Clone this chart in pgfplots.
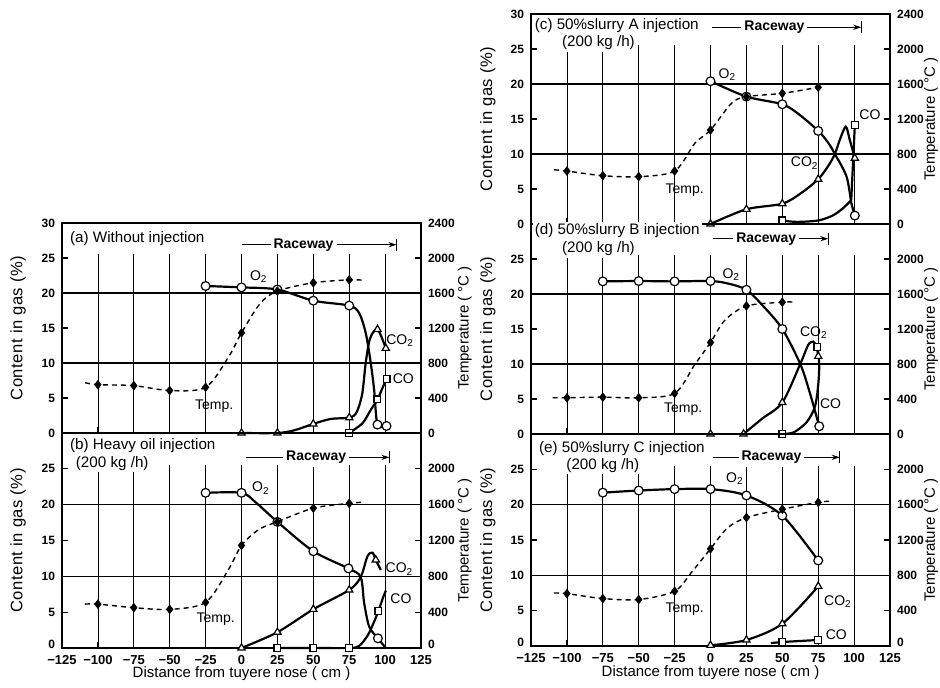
\documentclass[border=0pt]{standalone}
\usepackage{fontspec}
\setmainfont{Liberation Sans}
\usepackage{pgfplots}
\pgfplotsset{compat=1.18}
\usetikzlibrary{arrows.meta}

\newcommand{\tf}{\fontsize{6}{7}\selectfont}
\newcommand{\hf}{\fontsize{7.6}{8.5}\selectfont}
\newcommand{\rf}{\fontsize{7}{8}\selectfont}
\newcommand{\lf}{\fontsize{7.5}{9}\selectfont}
\newcommand{\ylf}{\fontsize{8.3}{9.5}\selectfont\addfontfeature{LetterSpace=3}}
\newcommand{\cf}{\fontsize{7}{8}\selectfont}

\pgfplotsset{
  panel/.style={scale only axis, width=179.5pt, anchor=south west,
    xmin=-125, xmax=125, ymin=0, ymax=30, clip=false,
    axis line style={line width=0.8pt},
    xtick={-125,-100,...,125}, xticklabels={},
    xtick pos=bottom, ytick pos=left, tick align=inside,
    major tick length=3pt, tick style={line width=0.6pt, black},
    ticklabel style={font=\tf\bfseries},
    ylabel={Content in gas (\%)},
    ylabel style={at={(axis description cs:-0.122,0.5)}, anchor=center, font=\ylf},
    xlabel style={at={(axis description cs:0.5,-0.12)}, anchor=center, font=\lf}},
  tpanel/.style={scale only axis, width=179.5pt, anchor=south west,
    xmin=-125, xmax=125, ymin=0, ymax=2400,
    axis x line=none, axis y line*=right,
    axis line style={line width=0.8pt},
    ytick pos=right, tick align=inside,
    major tick length=3pt, tick style={line width=0.6pt, black},
    ticklabel style={font=\tf\bfseries},
    ylabel={Temperature ( °C )},
    ylabel style={at={(axis description cs:1.122,0.5)}, anchor=center, font=\lf}},
  curve/.style={line width=1.1pt, black, smooth, no markers},
  line/.style={line width=1.1pt, black, no markers},
  tcurve/.style={line width=0.7pt, black, smooth, no markers, dash pattern=on 2.5pt off 2pt},
  mO/.style={only marks, mark=*, mark size=2.2pt, mark options={fill=white, draw=black, line width=0.6pt, solid}},
  mT/.style={only marks, mark=triangle*, mark size=2.1pt, mark options={fill=white, draw=black, line width=0.6pt, solid}},
  mS/.style={only marks, mark=square*, mark size=1.7pt, mark options={fill=white, draw=black, line width=0.6pt, solid}},
  mD/.style={only marks, mark=diamond*, mark size=2.1pt, mark options={fill=black, draw=black, solid}},
}

\newcommand{\gridlines}{%
  \draw[line width=0.7pt] (axis cs:-125,10) -- (axis cs:125,10);
  \draw[line width=0.7pt] (axis cs:-125,20) -- (axis cs:125,20);
  \pgfplotsinvokeforeach{-100,-75,-50,-25,0,25,50,75,100}{\draw[line width=0.4pt] (axis cs:##1,0) -- (axis cs:##1,25.5);}%
}
% #1 start x, #2 end x, #3 y, #4 text pos
\newcommand{\raceway}[4]{%
  \draw[line width=0.6pt, -{Stealth[length=4pt,width=2.6pt]}] (axis cs:#1,#3) -- node[pos=#4, fill=white, inner sep=1.5pt, font=\rf\bfseries]{Raceway} (axis cs:#2,#3);
  \draw[line width=0.7pt] ([yshift=-3pt]axis cs:#2,#3) -- ([yshift=3pt]axis cs:#2,#3);
}
\newcommand{\ttl}[3]{\node[anchor=west, fill=white, inner sep=1pt, font=\hf] at (axis cs:#1,#2) {#3};}
\newcommand{\lbl}[3]{\node[font=\cf, inner sep=0.5pt] at (axis cs:#1,#2) {#3};}

\begin{document}
\begin{tikzpicture}
\useasboundingbox (0,0) rectangle (470pt,344pt);

%================ (a) =================
\begin{axis}[panel, at={(31pt,127.5pt)}, height=105pt,
  ytick={0,5,...,30}, yticklabels={0,5,10,15,20,25,30}]
  \gridlines
  \addplot[curve] coordinates {(-25,21.0) (0,20.8) (25,20.5) (50,18.9) (75,18.2) (82,17.1) (86.6,14.2) (90,10) (92.4,6.1) (94.7,1.2) (101,1.0)};
  \addplot[curve] coordinates {(0,0) (25,0) (37,0.4) (50,1.3) (62,2.0) (75,2.2) (80,2.9) (84,5.5) (86.5,10) (89.5,13.5) (94.7,14.8) (100.5,12.1)};
  \addplot[curve] coordinates {(75,0) (84.3,1.4) (90,3.3) (94.7,4.8) (98.1,6.4) (101,7.7)};
  \addplot[mO] coordinates {(-25,21.0) (0,20.8) (25,20.5) (50,18.9) (75,18.2) (94.7,1.2) (101,1.0)};
  \addplot[mT] coordinates {(0,0) (25,0) (50,1.3) (75,2.2) (94.7,14.8) (100.5,12.1)};
  \addplot[mS] coordinates {(75,0) (94.7,4.8) (101,7.7)};
  \ttl{-121}{27.8}{(a) Without injection}
  \raceway{0}{108}{26.9}{0.4}
  \lbl{12}{22.4}{O\textsubscript{2}}
  \lbl{110.4}{13.2}{CO\textsubscript{2}}
  \lbl{112.7}{7.8}{CO}
  \lbl{-19}{3.9}{Temp.}
\end{axis}
\begin{axis}[tpanel, at={(31pt,127.5pt)}, height=105pt,
  ytick={0,400,...,2400}, yticklabels={0,400,800,1200,1600,2000,2400}]
  \addplot[tcurve] coordinates {(-109,575) (-100,552) (-75,541) (-50,485) (-25,522) (-9,870) (0,1145) (13,1480) (25,1622) (50,1717) (75,1750) (86,1745)};
  \addplot[mD] coordinates {(-100,552) (-75,541) (-50,485) (-25,522) (0,1145) (25,1622) (50,1717) (75,1750)};
\end{axis}

%================ (b) =================
\begin{axis}[panel, at={(31pt,20pt)}, height=107.5pt,
  ytick={0,5,...,25}, yticklabels={\raisebox{4pt}{0},5,10,15,20,25},
  xticklabels={−125,−100,−75,−50,−25,0,25,50,75,100,125},
  xticklabel style={font=\fontsize{6.5}{7.5}\selectfont\bfseries},
  xlabel={Distance from tuyere nose ( cm )}]
  \gridlines
  \addplot[curve] coordinates {(-25,21.65) (0,21.65) (10,20.3) (25,17.6) (50,13.5) (74.5,11.1) (83,9.9) (85.4,6.3) (88.9,3.0) (95,1.35) (100.5,0)};
  \addplot[curve] coordinates {(0,0) (25,2.2) (50,5.4) (75,8.1) (83,9.9) (87.7,12.8) (91.2,13.3) (93.5,12.3) (97,10.9)};
  \addplot[curve] coordinates {(25,0) (50,0) (75,0) (82,0.3) (88,1.8) (92,3.5) (95.4,5.2) (98.5,7.0) (100.5,8.0)};
  \addplot[mO] coordinates {(-25,21.65) (0,21.65) (25,17.6) (50,13.5) (74.5,11.1) (95,1.35)};
  \addplot[mT] coordinates {(0,0) (25,2.2) (50,5.4) (75,8.1) (93.5,12.3)};
  \addplot[mS] coordinates {(25,0) (50,0) (75,0) (95.4,5.2)};
  \ttl{-121}{28.3}{(b) Heavy oil injection}
  \ttl{-117}{25.8}{(200 kg /h)}
  \raceway{3}{103}{26.6}{0.49}
  \lbl{13.5}{22.3}{O\textsubscript{2}}
  \lbl{110}{11}{CO\textsubscript{2}}
  \lbl{111}{6.9}{CO}
  \lbl{-18}{4.0}{Temp.}
\end{axis}
\begin{axis}[tpanel, at={(31pt,20pt)}, height=107.5pt,
  ytick={0,400,...,2000}, yticklabels={\raisebox{4pt}{0},400,800,1200,1600,2000}]
  \addplot[tcurve] coordinates {(-109,490) (-100,490) (-75,450) (-50,431) (-25,509) (-9,878) (0,1145) (12,1322) (25,1409) (50,1561) (75,1614) (86,1630)};
  \addplot[mD] coordinates {(-100,490) (-75,450) (-50,431) (-25,509) (0,1145) (25,1409) (50,1561) (75,1614)};
\end{axis}

%================ (c) =================
\begin{axis}[panel, at={(265.5pt,232pt)}, height=105pt,
  ylabel style={at={(axis description cs:-0.12,0.5)}},
  ytick={0,5,...,30}, yticklabels={0,5,10,15,20,25,30}]
  \gridlines
  \addplot[curve] coordinates {(0,20.4) (25,18.2) (50,17.1) (62,15.6) (75,13.3) (82,11.6) (86.6,10) (94.7,6.8) (98.1,3) (100.5,1.2)};
  \addplot[curve] coordinates {(0,0) (25,2.1) (50,2.9) (63,4.4) (75,6.4) (82,8.3) (86.6,10) (90,12) (94.2,13.9) (97,12) (100.5,9.4)};
  \addplot[curve] coordinates {(50,0.5) (60,0.3) (75,0.5) (85,1.2) (92,2.2) (98,3.4)};
  \addplot[line] coordinates {(98,3.4) (100.5,14.1)};
  \addplot[mO] coordinates {(0,20.4) (25,18.2) (50,17.1) (75,13.3) (100.5,1.2)};
  \addplot[mT] coordinates {(0,0) (25,2.1) (50,2.9) (75,6.4) (100.5,9.4)};
  \addplot[mS] coordinates {(50,0.5) (100.5,14.1)};
  \ttl{-124}{28.3}{(c) 50\%slurry A injection}
  \ttl{-105}{25.9}{(200 kg /h)}
  \raceway{0.7}{105}{28.1}{0.42}
  \lbl{11.8}{21.3}{O\textsubscript{2}}
  \lbl{65.6}{8.7}{CO\textsubscript{2}}
  \lbl{111}{15.6}{CO}
  \lbl{-18}{4.9}{Temp.}
\end{axis}
\begin{axis}[tpanel, at={(265.5pt,232pt)}, height=105pt,
  ylabel style={at={(axis description cs:1.114,0.5)}},
  ytick={0,400,...,2400}, yticklabels={0,400,800,1200,1600,2000,2400}]
  \addplot[tcurve] coordinates {(-109,620) (-100,605) (-75,552) (-50,541) (-25,605) (-11,921) (0,1074) (14.6,1379) (25,1455) (50,1493) (75,1562)};
  \addplot[mD] coordinates {(-100,605) (-75,552) (-50,541) (-25,605) (0,1074) (25,1455) (50,1493) (75,1562)};
\end{axis}

%================ (d) =================
\begin{axis}[panel, at={(265.5pt,127pt)}, height=105pt,
  ylabel style={at={(axis description cs:-0.12,0.5)}},
  ytick={0,5,...,25}, yticklabels={0,5,10,15,20,25}]
  \gridlines
  \addplot[curve] coordinates {(-75,21.8) (-50,21.85) (-25,21.8) (0,21.85) (12,21.5) (25,20.6) (37,18.2) (50,15.0) (62.5,10) (69,6.0) (75.7,1.1)};
  \addplot[curve] coordinates {(23,0) (36,2.2) (50,4.5) (62.5,10) (68,12.7) (71.6,13.2) (74,12.4) (75,11.1)};
  \addplot[curve] coordinates {(50,0) (58,0.24) (67,1.7) (72.7,3.9) (75,7) (75.7,9.9) (74.5,12.4)};
  \addplot[mO] coordinates {(-75,21.8) (-50,21.85) (-25,21.8) (0,21.85) (25,20.6) (50,15.0) (75.7,1.1)};
  \addplot[mT] coordinates {(0,0) (23,0) (50,4.5) (75,11.1)};
  \addplot[mS] coordinates {(50,0) (74.5,12.4)};
  \ttl{-124}{29.0}{(d) 50\%slurry B injection}
  \ttl{-105}{26.5}{(200 kg /h)}
  \raceway{2}{82}{27.9}{0.46}
  \lbl{14.5}{22.8}{O\textsubscript{2}}
  \lbl{72}{14.5}{CO\textsubscript{2}}
  \lbl{83.6}{4.3}{CO}
  \lbl{-19}{3.6}{Temp.}
\end{axis}
\begin{axis}[tpanel, at={(265.5pt,127pt)}, height=105pt,
  ylabel style={at={(axis description cs:1.114,0.5)}},
  ytick={0,400,...,2000}, yticklabels={0,400,800,1200,1600,2000}]
  \addplot[tcurve] coordinates {(-110,414) (-100,414) (-75,421) (-50,414) (-25,464) (-11,792) (0,1046) (10,1300) (25,1463) (50,1506) (57,1508)};
  \addplot[mD] coordinates {(-100,414) (-75,421) (-50,414) (-25,464) (0,1046) (25,1463) (50,1506)};
\end{axis}

%================ (e) =================
\begin{axis}[panel, at={(265.5pt,21pt)}, height=106pt,
  ylabel style={at={(axis description cs:-0.12,0.5)}},
  ytick={0,5,...,25}, yticklabels={\raisebox{4pt}{0},5,10,15,20,25},
  xticklabels={−125,−100,−75,−50,−25,0,25,50,75,100,125},
  xticklabel style={font=\fontsize{6.5}{7.5}\selectfont\bfseries},
  xlabel={Distance from tuyere nose ( cm )},
  xlabel style={at={(axis description cs:0.5,-0.127)}}]
  \gridlines
  \addplot[curve] coordinates {(-75,21.7) (-50,22.0) (-25,22.2) (0,22.2) (25,21.3) (50,18.45) (75,12.1)};
  \addplot[curve] coordinates {(0,0.1) (25,0.85) (50,3.15) (75,8.45)};
  \addplot[curve] coordinates {(42,0.4) (50,0.56) (75,0.85)};
  \addplot[mO] coordinates {(-75,21.7) (-50,22.0) (-25,22.2) (0,22.2) (25,21.3) (50,18.45) (75,12.1)};
  \addplot[mT] coordinates {(0,0.1) (25,0.85) (50,3.15) (75,8.45)};
  \addplot[mS] coordinates {(50,0.56) (75,0.85)};
  \ttl{-121}{27.9}{(e) 50\%slurry C injection}
  \ttl{-102}{25.6}{(200 kg /h)}
  \raceway{2}{90}{26.7}{0.46}
  \lbl{17}{23.7}{O\textsubscript{2}}
  \lbl{88.8}{6.3}{CO\textsubscript{2}}
  \lbl{87.6}{1.6}{CO}
  \lbl{-18}{5.2}{Temp.}
\end{axis}
\begin{axis}[tpanel, at={(265.5pt,21pt)}, height=106pt,
  ylabel style={at={(axis description cs:1.114,0.5)}},
  ytick={0,400,...,2000}, yticklabels={\raisebox{4pt}{0},400,800,1200,1600,2000}]
  \addplot[tcurve] coordinates {(-109,600) (-100,593) (-75,537) (-50,526) (-25,620) (-12.7,845) (0,1100) (11.6,1333) (25,1454) (50,1548) (75,1626) (84,1640)};
  \addplot[mD] coordinates {(-100,593) (-75,537) (-50,526) (-25,620) (0,1100) (25,1454) (50,1548) (75,1626)};
\end{axis}
\end{tikzpicture}
\end{document}
